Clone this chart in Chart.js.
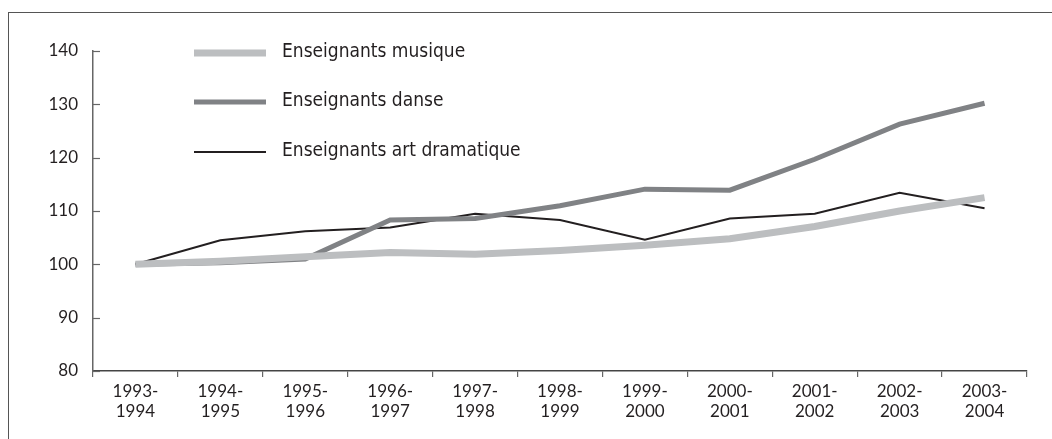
<!DOCTYPE html>
<html>
<head>
<meta charset="utf-8">
<script src="https://cdn.jsdelivr.net/npm/chart.js@4"></script>
<style>
  html, body { margin: 0; padding: 0; background: #fff; }
  #wrap { position: relative; width: 1052px; height: 439px; overflow: hidden; }
  #frame { position: absolute; left: 8px; top: 12px; right: -2px; bottom: -2px;
           border-top: 1.5px solid #555; border-left: 1.5px solid #555; }
  canvas { position: absolute; left: 0; top: 0; }
</style>
</head>
<body>
<div id="wrap">
  <div id="frame"></div>
  <canvas id="lineChart" width="1052" height="439"></canvas>
</div>
<script>
// données
let years = [['1993-', '1994'], ['1994-', '1995'], ['1995-', '1996'], ['1996-', '1997'],
  ['1997-', '1998'], ['1998-', '1999'], ['1999-', '2000'], ['2000-', '2001'],
  ['2001-', '2002'], ['2002-', '2003'], ['2003-', '2004']];
let musique = [100, 100.6, 101.4, 102.2, 101.9, 102.6, 103.6, 104.8, 107.1, 110, 112.5];
let danse = [100, 100.3, 101, 108.3, 108.6, 111, 114.1, 113.9, 119.7, 126.3, 130.2];
let dramatique = [100, 104.5, 106.2, 106.9, 109.5, 108.3, 104.6, 108.6, 109.5, 113.4, 110.5];
let yTicks = [80, 90, 100, 110, 120, 130, 140];

let fontFam = 'Lato, "Open Sans", sans-serif';
let legendFont = '"Liberation Sans Narrow", "DejaVu Sans Condensed", sans-serif';

// petits traits de l'axe vertical (vers l'intérieur) + légende
let extras = {
  id: 'extras',
  afterDraw(chart) {
    let ctx = chart.ctx;
    let y = chart.scales.y;
    let left = chart.chartArea.left;
    ctx.save();
    ctx.strokeStyle = '#666';
    ctx.lineWidth = 1.2;
    yTicks.forEach(v => {
      let py = Math.round(y.getPixelForValue(v)) + 0.5;
      ctx.beginPath();
      ctx.moveTo(left, py);
      ctx.lineTo(left + 7, py);
      ctx.stroke();
    });
    // légende
    let items = [
      { text: 'Enseignants musique', color: '#bcbec0', w: 7, y: 53 },
      { text: 'Enseignants danse', color: '#808285', w: 5, y: 102 },
      { text: 'Enseignants art dramatique', color: '#231f20', w: 2, y: 152 }
    ];
    ctx.font = '19px ' + legendFont;
    ctx.textBaseline = 'middle';
    ctx.fillStyle = '#231f20';
    items.forEach(it => {
      ctx.strokeStyle = it.color;
      ctx.lineWidth = it.w;
      ctx.beginPath();
      ctx.moveTo(194, it.y);
      ctx.lineTo(266, it.y);
      ctx.stroke();
      ctx.fillText(it.text, 282, it.y - 1);
    });
    ctx.restore();
  }
};

let ctx = document.getElementById('lineChart');
let chart = new Chart(ctx, {
  type: 'line',
  data: {
    labels: years,
    datasets: [
      { label: 'Enseignants musique', data: musique, borderColor: '#bcbec0', borderWidth: 7 },
      { label: 'Enseignants danse', data: danse, borderColor: '#808285', borderWidth: 5 },
      { label: 'Enseignants art dramatique', data: dramatique, borderColor: '#231f20', borderWidth: 2 }
    ]
  },
  options: {
    responsive: false,
    animation: false,
    events: [],
    elements: {
      point: { radius: 0 },
      line: { tension: 0, borderJoinStyle: 'miter', borderCapStyle: 'butt' }
    },
    layout: { padding: { left: 0, right: 25, top: 51, bottom: 0 } },
    plugins: { legend: { display: false }, tooltip: { enabled: false } },
    scales: {
      x: {
        offset: true,
        afterFit: s => { s.height = 68; },
        grid: { offset: true, drawOnChartArea: false, tickLength: 6, color: '#666', lineWidth: 1.2 },
        border: { color: '#444', width: 1.5 },
        ticks: { color: '#231f20', font: { family: fontFam, size: 17 }, padding: 4, maxRotation: 0, autoSkip: false }
      },
      y: {
        min: 80,
        max: 140,
        afterFit: s => { s.width = 93; },
        afterBuildTicks: s => { s.ticks = yTicks.map(v => ({ value: v })); },
        grid: { drawOnChartArea: false, drawTicks: false },
        border: { color: '#666', width: 1.5 },
        ticks: { color: '#231f20', font: { family: fontFam, size: 17 }, padding: 15 }
      }
    }
  },
  plugins: [extras]
});
</script>
</body>
</html>
